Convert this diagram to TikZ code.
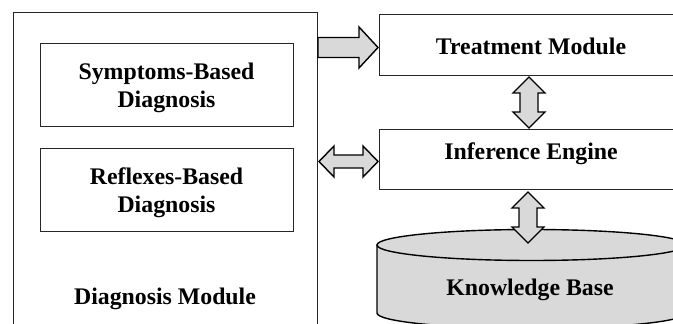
\documentclass[tikz,border=0pt]{standalone}
\usepackage{fontspec}
\setmainfont{Liberation Serif}
\usetikzlibrary{calc}
\definecolor{kbgray}{RGB}{217,217,217}
\begin{document}
\begin{tikzpicture}[x=1pt,y=1pt,
  box/.style={draw=black!85, line width=0.9pt, inner sep=0pt},
  lbl/.style={font=\fontsize{23.8}{28}\selectfont\bfseries, inner sep=0pt, align=center},
  blockarrow/.style={draw=black, fill=kbgray, line width=1.4pt, line join=miter, miter limit=10},
  cyl/.style={draw=black, line width=1.4pt}]
\useasboundingbox (0,0) rectangle (673,324);
\clip (0,0) rectangle (673,324);
% Diagnosis module
\node[box, minimum width=304pt, minimum height=340pt] (diag) at (165,142) {};
\node[box, minimum width=253pt, minimum height=83pt] (symp) at (166.5,239.5) {};
\node[box, minimum width=253pt, minimum height=83pt] (refl) at (166.5,134.5) {};
\node[lbl, yshift=-3pt] (symptxt) at (symp.center) {Symptoms-Based\\Diagnosis};
\node[lbl, yshift=-3pt] (refltxt) at (refl.center) {Reflexes-Based\\Diagnosis};
\node[lbl, anchor=base] (diagtxt) at (165,19) {Diagnosis Module};
% Right column
\node[box, minimum width=304pt, minimum height=61pt] (treat) at (531,279.5) {};
\node[box, minimum width=304pt, minimum height=60pt] (inf) at (531,165) {};
\node[lbl, anchor=base] (treattxt) at (531,269) {Treatment Module};
\node[lbl, anchor=base] (inftxt) at (531,164) {Inference Engine};
% Knowledge base cylinder
\coordinate (kbtop) at (531.5,79);
\coordinate (kbbot) at (531.5,11);
\fill[kbgray] (377,79) -- (377,11) arc[start angle=180, end angle=360, x radius=154.5, y radius=15.5]
  -- (686,79) arc[start angle=0, end angle=180, x radius=154.5, y radius=15.5] -- cycle;
\draw[cyl] (377,79) -- (377,11) arc[start angle=180, end angle=360, x radius=154.5, y radius=15.5] -- (686,79);
\draw[cyl] (kbtop) ellipse[x radius=154.5, y radius=15.5];
\node[lbl, anchor=base] (kb) at (530,28) {Knowledge Base};
% Block arrows
\coordinate (a1) at (318,276.5);
\draw[blockarrow] (a1) ++(0,10) -- ++(41,0) -- ++(0,10.5) -- ++(19,-20.5) -- ++(-19,-20.5)
  -- ++(0,10.5) -- ++(-41,0) -- cycle;
\coordinate (a2) at (319,162.5);
\draw[blockarrow] (a2) -- ++(15,15.5) -- ++(0,-9) -- ++(29,0) -- ++(0,9) -- ++(15,-15.5)
  -- ++(-15,-15.5) -- ++(0,9) -- ++(-29,0) -- ++(0,-9) -- cycle;
\coordinate (a3) at (529,247);
\draw[blockarrow] (a3) -- ++(16,-16) -- ++(-7,0) -- ++(0,-19) -- ++(7,0) -- ++(-16,-16)
  -- ++(-16,16) -- ++(7,0) -- ++(0,19) -- ++(-7,0) -- cycle;
\coordinate (a4) at (528,132);
\draw[blockarrow] (a4) -- ++(16,-16) -- ++(-7,0) -- ++(0,-19) -- ++(7,0) -- ++(-16,-16)
  -- ++(-16,16) -- ++(7,0) -- ++(0,19) -- ++(-7,0) -- cycle;
\end{tikzpicture}
\end{document}
